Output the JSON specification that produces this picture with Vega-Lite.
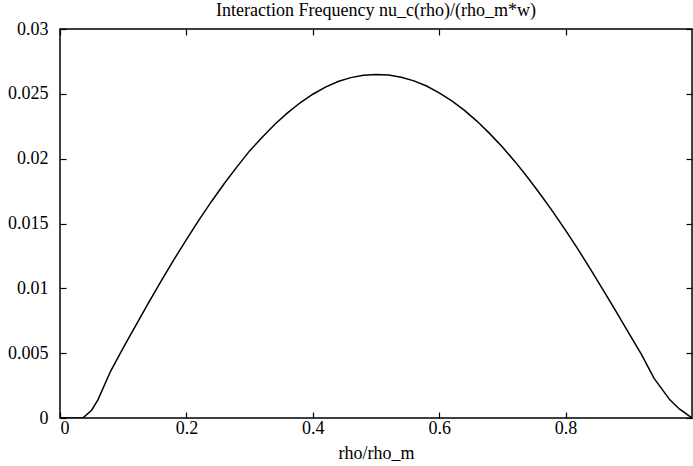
{
  "$schema": "https://vega.github.io/schema/vega-lite/v6.json",
  "width": 632,
  "height": 389,
  "autosize": {"type": "none"},
  "padding": {"left": 60, "top": 29, "right": 1, "bottom": 48},
  "background": "white",
  "config": {
    "font": "Liberation Serif",
    "view": {"stroke": "black", "strokeWidth": 1.5},
    "axis": {"grid": false, "domain": false, "tickColor": "black", "tickWidth": 1.2, "tickSize": -6, "labelColor": "black", "labelFont": "Liberation Serif", "labelFontSize": 18, "titleFont": "Liberation Serif", "titleFontWeight": "normal", "titleColor": "black", "titleFontSize": 18}
  },
  "title": {"text": "Interaction Frequency nu_c(rho)/(rho_m*w)", "font": "Liberation Serif", "fontSize": 18, "fontWeight": "normal", "color": "black", "anchor": "middle", "offset": 0},
  "data": {"values": [
    {"x": 0, "y": 0}, {"x": 0.02, "y": 0}, {"x": 0.036, "y": 0},
    {"x": 0.05, "y": 0.0006}, {"x": 0.06, "y": 0.0014}, {"x": 0.08, "y": 0.0036},
    {"x": 0.10, "y": 0.0054}, {"x": 0.12, "y": 0.00715}, {"x": 0.14, "y": 0.00887},
    {"x": 0.16, "y": 0.01056}, {"x": 0.18, "y": 0.01219}, {"x": 0.20, "y": 0.01376},
    {"x": 0.22, "y": 0.01528}, {"x": 0.24, "y": 0.01672}, {"x": 0.26, "y": 0.01808},
    {"x": 0.28, "y": 0.01937}, {"x": 0.30, "y": 0.0206}, {"x": 0.32, "y": 0.02165},
    {"x": 0.34, "y": 0.02265}, {"x": 0.36, "y": 0.02353}, {"x": 0.38, "y": 0.02431},
    {"x": 0.40, "y": 0.02497}, {"x": 0.42, "y": 0.02552}, {"x": 0.44, "y": 0.02595},
    {"x": 0.46, "y": 0.02625}, {"x": 0.48, "y": 0.02644}, {"x": 0.50, "y": 0.0265},
    {"x": 0.52, "y": 0.02645}, {"x": 0.54, "y": 0.02628}, {"x": 0.56, "y": 0.026},
    {"x": 0.58, "y": 0.0256}, {"x": 0.60, "y": 0.02508}, {"x": 0.62, "y": 0.02445},
    {"x": 0.64, "y": 0.02372}, {"x": 0.66, "y": 0.02288}, {"x": 0.68, "y": 0.02193},
    {"x": 0.70, "y": 0.0209}, {"x": 0.72, "y": 0.01977}, {"x": 0.74, "y": 0.01855},
    {"x": 0.76, "y": 0.01726}, {"x": 0.78, "y": 0.0159}, {"x": 0.80, "y": 0.01447},
    {"x": 0.82, "y": 0.01298}, {"x": 0.84, "y": 0.01143}, {"x": 0.86, "y": 0.00983},
    {"x": 0.88, "y": 0.0082}, {"x": 0.90, "y": 0.00655}, {"x": 0.92, "y": 0.0049},
    {"x": 0.94, "y": 0.00305}, {"x": 0.965, "y": 0.0014}, {"x": 0.98, "y": 0.0007},
    {"x": 1.0, "y": 0}
  ]},
  "layer": [
    {
      "mark": {"type": "line", "color": "black", "strokeWidth": 1.5, "clip": true},
      "encoding": {
        "x": {"field": "x", "type": "quantitative", "scale": {"domain": [0, 1], "nice": false, "zero": false},
              "axis": {"orient": "bottom", "values": [0, 0.2, 0.4, 0.6, 0.8], "format": ".1~f", "title": "rho/rho_m", "labelPadding": 7, "titlePadding": 7}},
        "y": {"field": "y", "type": "quantitative", "scale": {"domain": [0, 0.03], "nice": false},
              "axis": {"orient": "left", "values": [0, 0.005, 0.01, 0.015, 0.02, 0.025, 0.03], "format": ".3~f", "title": null, "labelPadding": 18}}
      }
    },
    {
      "mark": {"type": "line", "strokeOpacity": 0},
      "encoding": {
        "x": {"field": "x", "type": "quantitative", "scale": {"domain": [0, 1], "nice": false, "zero": false},
              "axis": {"orient": "top", "values": [0, 0.2, 0.4, 0.6, 0.8], "labels": false, "title": null}},
        "y": {"field": "y", "type": "quantitative", "scale": {"domain": [0, 0.03], "nice": false},
              "axis": {"orient": "right", "values": [0, 0.005, 0.01, 0.015, 0.02, 0.025, 0.03], "labels": false, "title": null}}
      }
    }
  ],
  "resolve": {"axis": {"x": "independent", "y": "independent"}}
}
